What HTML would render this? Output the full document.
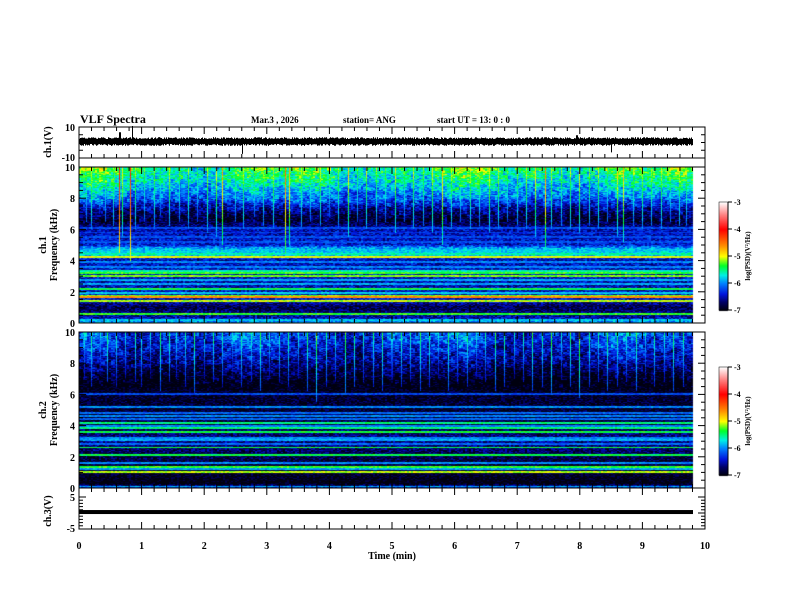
<!DOCTYPE html>
<html><head><meta charset="utf-8"><style>
html,body{margin:0;padding:0;background:#fff;}
#wrap{position:relative;width:792px;height:612px;overflow:hidden;font-family:"Liberation Serif",serif;font-weight:bold;}
canvas,svg{position:absolute;left:0;top:0;}
</style></head><body>
<div id="wrap">
<canvas id="spec" width="792" height="612"></canvas>
<svg id="ov" width="792" height="612"></svg>
</div>
<script>
// ---- data ----
const timeTicks = [0,1,2,3,4,5,6,7,8,9,10];
const freqTicks = [0,2,4,6,8,10];
const cbarTicks = [-3,-4,-5,-6,-7];
// background log PSD profile by frequency [kHz, level]
const ch1Profile = [[0,-5.8],[0.3,-6.5],[1.0,-6.8],[1.5,-6.4],[2.5,-6.5],[3.5,-6.4],[4.1,-6.5],[4.3,-5.8],[4.8,-5.9],[5.0,-6.4],[6.0,-6.5],[6.6,-6.9],[7.3,-6.6],[8.0,-6.1],[9.0,-5.7],[10,-5.4]];
const ch2Profile = [[0,-6.2],[0.3,-7.1],[1.0,-6.9],[2.0,-6.8],[3.0,-6.6],[4.0,-6.8],[5.0,-6.9],[6.0,-6.9],[6.6,-7.1],[7.5,-6.8],[8.5,-6.5],[10,-6.2]];
// horizontal narrowband lines: frequency (kHz) and level
const ch1LineFreq = [0.2,0.6,1.4,1.65,1.75,1.95,2.2,2.5,2.75,3.0,3.2,3.35,3.6,3.9,4.25,4.4,4.55,4.7,5.2,5.5,5.8,6.1];
const ch1LineLevel = [-5.8,-5.3,-5.1,-4.6,-5.2,-5.8,-5.4,-5.9,-5.9,-5.2,-5.3,-5.6,-6.0,-6.0,-5.0,-5.6,-5.9,-5.9,-6.2,-6.2,-6.3,-6.2];
const ch2LineFreq = [0.1,1.05,1.2,1.35,1.6,2.1,2.6,2.8,3.1,3.2,3.6,3.85,4.0,4.15,4.4,4.6,4.8,5.2,6.0];
const ch2LineLevel = [-5.9,-5.1,-5.9,-5.3,-6.0,-5.4,-5.4,-6.1,-5.9,-6.0,-5.4,-5.5,-6.0,-5.5,-6.1,-6.0,-6.1,-6.0,-6.2];
// impulsive vertical events: time (min), peak level, lowest freq reached (kHz)
const ch1SpikeTime = [0.12,0.2,0.33,0.42,0.55,0.65,0.7,0.82,0.9,1.05,1.2,1.3,1.45,1.6,1.75,1.9,2.05,2.2,2.3,2.5,2.62,2.8,2.95,3.1,3.3,3.37,3.55,3.7,3.85,4.0,4.15,4.3,4.45,4.6,4.75,4.9,5.05,5.2,5.35,5.5,5.65,5.8,5.95,6.1,6.25,6.4,6.55,6.7,6.85,7.0,7.15,7.3,7.45,7.55,7.7,7.85,8.0,8.15,8.3,8.45,8.6,8.7,8.85,9.0,9.15,9.3,9.45,9.6,9.7];
const ch1SpikePeak = [-5.2,-5.0,-5.4,-5.2,-5.1,-4.0,-4.9,-4.1,-5.0,-5.2,-5.1,-5.3,-5.0,-5.2,-5.1,-5.3,-5.0,-4.9,-4.6,-5.2,-5.0,-5.2,-5.1,-5.0,-4.4,-4.6,-5.1,-5.2,-5.0,-5.2,-5.1,-4.8,-5.2,-5.0,-5.1,-5.2,-4.9,-5.2,-5.0,-5.1,-4.9,-4.7,-5.0,-5.2,-5.0,-5.1,-4.9,-5.0,-5.2,-5.1,-5.0,-4.8,-4.5,-5.0,-5.1,-5.0,-4.9,-5.1,-5.0,-5.2,-4.8,-4.7,-5.1,-5.0,-5.1,-5.0,-5.2,-5.0,-5.1];
const ch1SpikeLow = [6.5,6.0,7.0,6.5,6.2,4.5,5.5,4.0,6.0,6.5,6.0,6.8,6.2,6.5,6.0,6.5,5.8,5.5,5.0,6.5,6.0,6.8,6.2,6.0,4.5,5.0,6.0,6.5,6.2,6.8,6.0,5.5,6.5,6.0,6.2,6.5,5.8,6.5,6.0,6.2,5.8,5.0,6.0,6.5,6.0,6.2,5.8,6.0,6.5,6.2,6.0,5.5,4.8,6.0,6.2,6.0,5.8,6.2,6.0,6.5,5.5,5.2,6.2,6.0,6.2,6.0,6.5,6.2,6.2];
const ch2SpikeTime = [0.08,0.2,0.35,0.45,0.6,0.75,0.9,1.0,1.15,1.3,1.45,1.55,1.7,1.85,2.0,2.15,2.3,2.45,2.6,2.75,2.9,3.05,3.2,3.35,3.5,3.65,3.8,3.95,4.1,4.25,4.4,4.55,4.7,4.85,5.0,5.15,5.3,5.45,5.6,5.75,5.9,6.05,6.2,6.35,6.5,6.65,6.8,6.95,7.1,7.25,7.4,7.55,7.7,7.85,8.0,8.15,8.3,8.45,8.6,8.75,8.9,9.05,9.2,9.35,9.5,9.65];
const ch2SpikePeak = [-5.6,-5.4,-5.7,-5.3,-5.5,-5.6,-5.4,-5.5,-5.7,-5.3,-5.4,-5.6,-5.5,-5.3,-5.6,-5.4,-5.5,-5.7,-5.4,-5.5,-5.3,-5.6,-5.5,-5.4,-5.6,-5.3,-5.1,-5.4,-5.5,-5.2,-5.3,-5.5,-5.4,-5.3,-5.6,-5.4,-5.5,-5.3,-5.4,-5.6,-5.3,-5.5,-5.4,-5.6,-5.5,-5.3,-5.4,-5.6,-5.5,-5.3,-5.4,-5.2,-5.6,-5.3,-5.1,-5.4,-5.5,-5.3,-5.4,-5.5,-5.3,-5.6,-5.4,-5.5,-5.3,-5.4];
const ch2SpikeLow = [7.0,6.5,7.2,6.8,6.5,7.0,6.8,6.5,7.0,6.2,6.8,7.0,6.5,6.0,7.0,6.8,6.5,7.2,6.5,6.8,6.2,7.0,6.8,6.5,7.0,6.2,5.5,6.5,6.8,6.0,6.5,6.8,6.5,6.2,7.0,6.5,6.8,6.2,6.5,7.0,6.2,6.8,6.5,7.0,6.8,6.2,6.5,7.0,6.8,6.2,6.5,6.0,7.0,6.5,5.8,6.5,6.8,6.2,6.5,6.8,6.2,7.0,6.5,6.8,6.2,6.5];
// waveform ch1 spikes: time (min), value (V)
const ch1WaveTime = [0.65,0.85,2.6,7.95,8.5];
const ch1WaveVal = [6,10,-8,4,-7];
const ch3Value = [0.3];
</script>
<script>
const X0=79, X1=705, XDATA=693;
const xs = t => X0 + (X1-X0)*t/10;
const panels = [
  {top:167,bot:323,profile:ch1Profile,lf:ch1LineFreq,ll:ch1LineLevel,st:ch1SpikeTime,sp:ch1SpikePeak,sl:ch1SpikeLow,seed:1},
  {top:332,bot:488,profile:ch2Profile,lf:ch2LineFreq,ll:ch2LineLevel,st:ch2SpikeTime,sp:ch2SpikePeak,sl:ch2SpikeLow,seed:2}
];
function hash(a,b,c){let h=(a*374761393+b*668265263+c*2147483647)|0;h=(h^(h>>>13))*1274126177|0;h=h^(h>>>16);return ((h>>>0)%10000)/10000;}
function interp(p,f){for(let i=1;i<p.length;i++){if(f<=p[i][0]){const a=p[i-1],b=p[i];return a[1]+(b[1]-a[1])*(f-a[0])/(b[0]-a[0]);}}return p[p.length-1][1];}
const cstops=[[-7,[0,0,15]],[-6.7,[0,0,100]],[-6.4,[0,20,220]],[-6.0,[0,130,255]],[-5.7,[0,240,230]],[-5.35,[0,255,40]],[-5.0,[255,255,0]],[-4.6,[255,140,0]],[-4.0,[255,0,0]],[-3.5,[255,120,120]],[-3,[255,255,255]]];
function cmap(v){if(v<=-7)return cstops[0][1];if(v>=-3)return cstops[cstops.length-1][1];for(let i=1;i<cstops.length;i++){if(v<=cstops[i][0]){const a=cstops[i-1],b=cstops[i];const r=(v-a[0])/(b[0]-a[0]);return a[1].map((c,k)=>Math.round(c+(b[1][k]-c)*r));}}}
const ctx=document.getElementById('spec').getContext('2d');
const img=ctx.createImageData(792,612);
function setpx(x,y,c){const i=(y*792+x)*4;img.data[i]=c[0];img.data[i+1]=c[1];img.data[i+2]=c[2];img.data[i+3]=255;}
panels.forEach(P=>{
  const H=P.bot-P.top, W=XDATA-X0;
  for(let c=0;c<W;c++){
    const t=(c+0.5)/(X1-X0)*10;
    const cc=c>>1;
    const slow=Math.sin(t*2.1+P.seed)*0.2+Math.sin(t*5.3)*0.12;
    for(let r=0;r<H;r++){
      const f=(H-r-0.5)/H*10;
      let v=interp(P.profile,f)+(hash(cc,r,P.seed)-0.5)*0.6;
      if(f>6.5) v+=slow*(f-6.5)/3.5+(hash(cc>>1,r>>2,P.seed+7)-0.5)*0.4;
      for(let k=0;k<P.st.length;k++){
        const tc=Math.abs(t-P.st[k]);
        if(tc<0.008 && f>=P.sl[k]){const fr=(f-P.sl[k])/(10-P.sl[k]);v=Math.max(v,P.sp[k]-(1-fr)*1.0+(hash(c,r,9)-0.5)*0.3);}
      }
      for(let k=0;k<P.lf.length;k++){
        if(Math.abs(f-P.lf[k])<0.06) v=Math.max(v,P.ll[k]+(hash(cc,r,5)-0.5)*0.3);
      }
      setpx(X0+c,P.top+r,cmap(v));
    }
  }
});
// colorbars
[[202,310],[367,475]].forEach(([a,b])=>{for(let y=a;y<=b;y++){const v=-3-4*(y-a)/(b-a);const col=cmap(v);for(let x=719;x<728;x++)setpx(x,y,col);}});
ctx.putImageData(img,0,0);

// ---- SVG overlay ----
const NS='http://www.w3.org/2000/svg', svg=document.getElementById('ov');
function el(tag,attrs,txt){const e=document.createElementNS(NS,tag);for(const k in attrs)e.setAttribute(k,attrs[k]);if(txt!==undefined)e.textContent=txt;svg.appendChild(e);return e;}
function line(x1,y1,x2,y2,w){return el('line',{x1,y1,x2,y2,stroke:'#000','stroke-width':w||1});}
function text(x,y,s,size,anchor,rot){const a={x,y,'font-size':size,'text-anchor':anchor||'middle','font-family':'Liberation Serif, serif','font-weight':'bold',fill:'#000'};if(rot)a.transform=`rotate(-90 ${x} ${y})`;return el('text',a,s);}
const boxes=[{top:127,bot:158},{top:167,bot:323},{top:332,bot:488},{top:488,bot:529}];
boxes.forEach((b,i)=>{
  const r=el('rect',{x:X0,y:b.top,width:X1-X0,height:b.bot-b.top,fill:'none',stroke:'#000','stroke-width':1});
  
  
  for(let k=0;k<=50;k++){const x=xs(k/5);const L=k%5===0?7:4;line(x,b.top,x,b.top+L);line(x,b.bot,x,b.bot-L);}
});
line(X0,158,X0,167);line(X1,158,X1,167);
line(X0,158,X1,158);
panels.forEach(P=>{const H=P.bot-P.top;for(let k=0;k<=20;k++){const y=P.bot-H*k/20;const L=k%4===0?7:4;line(X0,y,X0+L,y);line(X1,y,X1-L,y);}
  freqTicks.forEach(f=>{const t=text(X0-4,P.bot-H*f/10+4,String(f),10,'end');});});
// ch1 waveform
{const top=127,bot=158,ys=v=>(top+bot)/2-1-(bot-top)/20*v;
 text(X0-4,top+4,'10',10,'end');text(X0-4,bot+3,'-10',10,'end');
 let d='';const n=Math.floor((XDATA-X0));
 for(let i=0;i<n;i++){const t=i/(X1-X0)*10;let v1=1.6+hash(i,1,3)*1.2,v2=-1.6-hash(i,2,3)*1.2;
  for(let k=0;k<ch1WaveTime.length;k++){if(Math.abs(t-ch1WaveTime[k])<0.012){if(ch1WaveVal[k]>0)v1=ch1WaveVal[k];else v2=ch1WaveVal[k];}}
  d+=`M${X0+i+0.5} ${ys(v1)}V${ys(v2)}`;}
 const p=el('path',{d,stroke:'#000','stroke-width':1,fill:'none'});
 
 
 for(let k=0;k<=4;k++){const y=top+(bot-top)*k/4;line(X0,y,X0+4,y);line(X1,y,X1-4,y);}
}
// ch3 waveform
{const ys=v=>513-3.2*v;
 text(X0-4,501,'5',10,'end');text(X0-4,532,'-5',10,'end');
 const r=el('rect',{x:X0,y:ys(ch3Value[0])-2,width:XDATA-X0,height:4,fill:'#000'});
 
 
 for(let k=0;k<=10;k++){const y=497+3.2*k;const L=k%5===0?7:4;line(X0,y,X0+L,y);line(X1,y,X1-L,y);}
}
timeTicks.forEach(t=>{const e=text(xs(t),549,String(t),10);});
const xt=text(392,559,'Time  (min)',10);
text(51,142,'ch.1(V)',10,'middle',true);
text(46,245,'ch.1',10,'middle',true);text(57,245,'Frequency (kHz)',10,'middle',true);
text(46,410,'ch.2',10,'middle',true);text(57,410,'Frequency (kHz)',10,'middle',true);
text(51,511,'ch.3(V)',10,'middle',true);
const ti=text(80,123,'VLF Spectra',12,'start');
text(251,123,'Mar.3  , 2026',9,'start');
text(343,123,'station= ANG',9,'start');
text(437,123,'start  UT  =   13: 0  : 0',9,'start');
[[202,310],[367,475]].forEach(([a,b],i)=>{
  const r=el('rect',{x:719,y:a,width:9,height:b-a,fill:'none',stroke:'#000','stroke-width':0.5});
  
  
  line(728,a,728,b);
  cbarTicks.forEach((v,k)=>{const y=a+(b-a)*k/4;line(728,y,732,y);text(734,y+3,String(v),8,'start');});
  text(750,(a+b)/2,'log(PSD)(V²/Hz)',7,'middle',true);
});
</script>
</body></html>
